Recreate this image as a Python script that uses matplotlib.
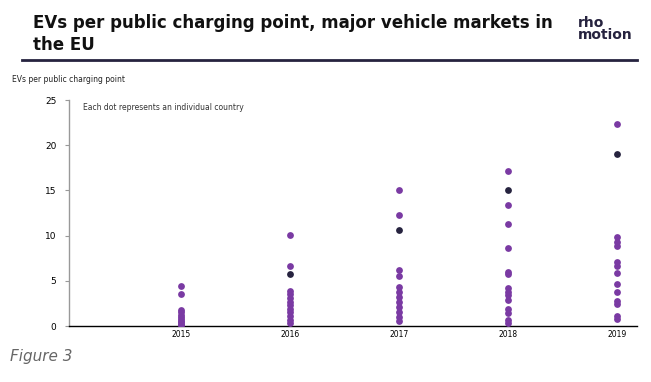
import matplotlib.pyplot as plt

years = [2015, 2016, 2017, 2018, 2019]

# EVs per public charging point, one value per country
vals_2015 = [4.4, 3.5, 1.8, 1.5, 1.2, 1.0, 0.8, 0.6, 0.4, 0.2, 0.1]
vals_2016 = [10.1, 6.6, 3.9, 3.5, 3.1, 2.7, 2.3, 1.9, 1.5, 1.1, 0.7, 0.3]
vals_2017 = [15.0, 12.3, 6.2, 5.5, 4.3, 3.8, 3.2, 2.7, 2.1, 1.6, 1.0, 0.5]
vals_2018 = [17.1, 13.4, 11.3, 8.6, 6.0, 5.8, 4.2, 3.8, 3.4, 2.9, 1.9, 1.4, 0.7, 0.3]
vals_2019 = [22.3, 9.9, 9.3, 8.8, 7.1, 6.6, 5.9, 4.7, 3.8, 2.8, 2.4, 1.1, 0.8]
all_vals = [vals_2015, vals_2016, vals_2017, vals_2018, vals_2019]

# highlighted country (dark dot)
dark_years = [2016, 2017, 2018, 2019]
dark_vals = [5.8, 10.6, 15.0, 19.0]

purple = "#7a3aa3"
navy = "#26233f"

fig = plt.figure(figsize=(6.51, 3.82), dpi=100)
ax = fig.add_axes([69/651, 56/382, (637-69)/651, 226/382])

for yr, vals in zip(years, all_vals):
    ax.scatter([yr]*len(vals), vals, s=24, color=purple, linewidths=0, zorder=3)
ax.scatter(dark_years, dark_vals, s=24, color=navy, linewidths=0, zorder=4)

ax.set_ylim(0, 25)
ax.set_xlim(2013.97, 2019.18)
ax.set_xticks(years)
ax.set_xticklabels([str(y) for y in years], fontsize=5.5)
ax.set_yticks([0, 5, 10, 15, 20, 25])
ax.tick_params(axis='y', labelsize=6.5, length=3, color='#999999', width=0.8, pad=6)
ax.tick_params(axis='x', length=0, pad=3)
for s in ['top', 'right']:
    ax.spines[s].set_visible(False)
ax.spines['left'].set_color('#999999')
ax.spines['left'].set_linewidth(1)
ax.spines['bottom'].set_color('black')
ax.spines['bottom'].set_linewidth(1)

ax.text(0.025, (326-107)/226, "Each dot represents an individual country", transform=ax.transAxes,
        fontsize=5.5, color='#333333', va='center')

fig.text(33/651, 1 - 34/382, "EVs per public charging point, major vehicle markets in\nthe EU",
         fontsize=12, fontweight='bold', color='#111111', va='center', linespacing=1.3)
fig.text(578/651, 1 - 29/382, "rho\nmotion", fontsize=10, fontweight='semibold', color=navy,
         va='center', linespacing=0.75)
fig.add_artist(plt.Line2D([22/651, 637/651], [1 - 60/382, 1 - 60/382], color=navy, lw=2))

fig.text(12/651, 1 - 80/382, "EVs per public charging point", fontsize=5.5, color='#222222', va='center')
fig.text(10/651, 1 - 357/382, "Figure 3", fontsize=11, style='italic', color='#666666', va='center')

fig.savefig("out.png", dpi=100)
